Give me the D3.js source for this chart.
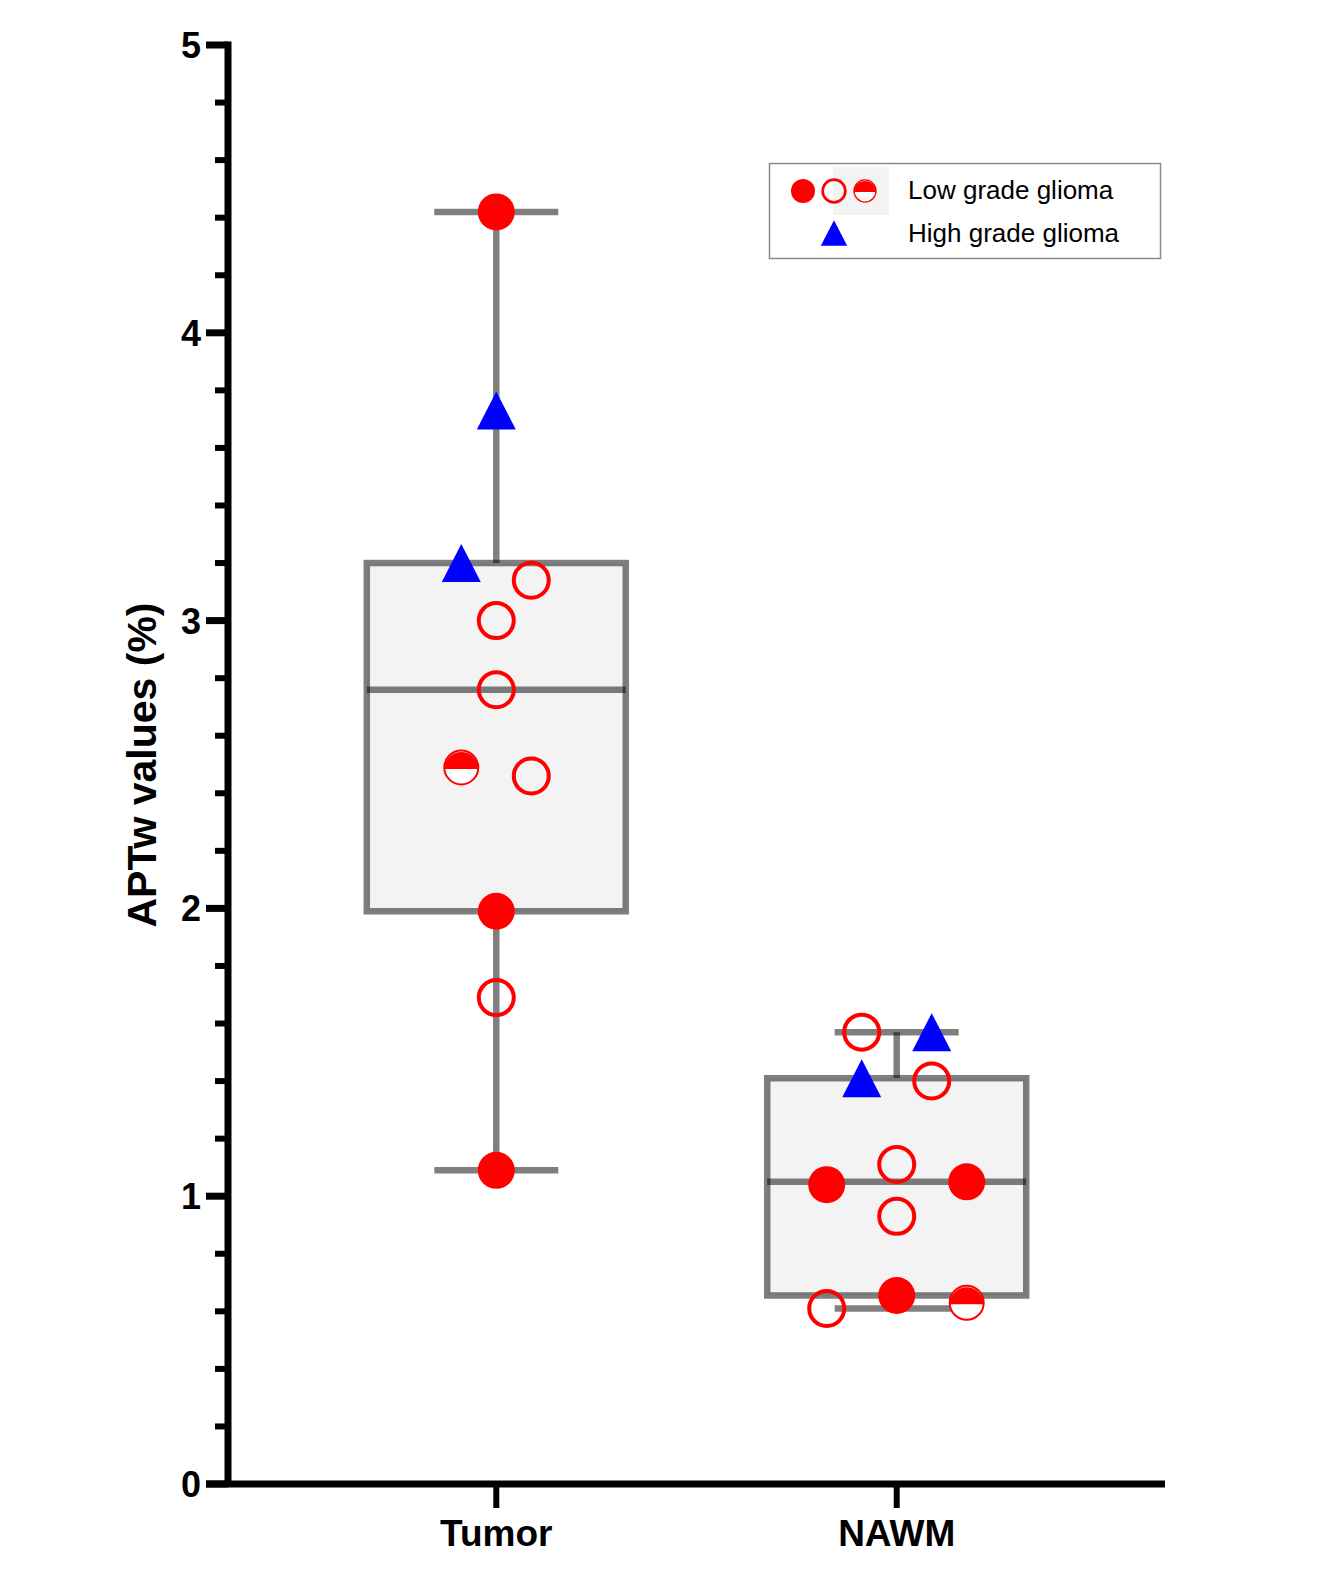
<!DOCTYPE html>
<html>
<head>
<meta charset="utf-8">
<script src="https://cdn.jsdelivr.net/npm/d3@7"></script>
<style>
  body { margin: 0; background: #fff; }
  svg { display: block; font-family: "Liberation Sans", Arial, Helvetica, sans-serif; }
</style>
</head>
<body>
<svg id="chart"></svg>
<script>
const categories = ['Tumor', 'NAWM'];

const tumorValues = [4.42, 3.73, 3.20, 3.14, 3.00, 2.76, 2.49, 2.46, 1.99, 1.69, 1.09];
const tumorMarkers = ['filled', 'tri', 'tri', 'open', 'open', 'open', 'half', 'open', 'filled', 'open', 'filled'];
const tumorSlots = [0, 0, -1, 1, 0, 0, -1, 1, 0, 0, 0];

const nawmValues = [1.57, 1.57, 1.41, 1.40, 1.11, 1.04, 1.05, 0.93, 0.655, 0.63, 0.61];
const nawmMarkers = ['open', 'tri', 'tri', 'open', 'open', 'filled', 'filled', 'open', 'filled', 'half', 'open'];
const nawmSlots = [-1, 1, -1, 1, 0, -2, 2, 0, 0, 2, -2];

const yTicks = [0, 1, 2, 3, 4, 5];
const legendLabels = ['Low grade glioma', 'High grade glioma'];

const width = 1323;
const height = 1588;
const red = '#ff0000';
const blue = '#0000ff';

const svg = d3.select('#chart').attr('width', width).attr('height', height);

const x = d3.scalePoint().domain(categories).range([228, 1165]).padding(0.67);
const y = d3.scaleLinear().domain([0, 5]).range([1484, 45]);
const slot = d3.scalePoint().domain([-2, -1, 0, 1, 2]).range([-70, 70]);

const groups = [
  { name: 'Tumor', values: tumorValues, markers: tumorMarkers, slots: tumorSlots },
  { name: 'NAWM', values: nawmValues, markers: nawmMarkers, slots: nawmSlots }
];

// quartiles the way Prism does it: value at position (n+1)p
function quart(sorted, p) {
  const pos = (sorted.length + 1) * p - 1;
  const lo = Math.floor(pos), hi = Math.ceil(pos);
  return sorted[lo] + (sorted[hi] - sorted[lo]) * (pos - lo);
}

const boxW = 259;
const capW = 124;
const boxStroke = { stroke: '#000', 'stroke-opacity': 0.5, 'stroke-width': 6.5 };

groups.forEach(g => {
  const s = g.values.slice().sort(d3.ascending);
  const st = { min: s[0], q1: quart(s, 0.25), med: quart(s, 0.5), q3: quart(s, 0.75), max: s[s.length - 1] };
  const cx = x(g.name);
  const bg = svg.append('g');

  const line = (x1, y1, x2, y2) => {
    const l = bg.append('line').attr('x1', x1).attr('y1', y1).attr('x2', x2).attr('y2', y2);
    Object.entries(boxStroke).forEach(([k, v]) => l.attr(k, v));
  };

  // whiskers
  line(cx, y(st.max), cx, y(st.q3));
  line(cx, y(st.q1), cx, y(st.min));
  line(cx - capW / 2, y(st.max), cx + capW / 2, y(st.max));
  line(cx - capW / 2, y(st.min), cx + capW / 2, y(st.min));

  // box
  const r = bg.append('rect')
    .attr('x', cx - boxW / 2).attr('y', y(st.q3))
    .attr('width', boxW).attr('height', y(st.q1) - y(st.q3))
    .attr('fill', '#f3f3f3');
  Object.entries(boxStroke).forEach(([k, v]) => r.attr(k, v));
  line(cx - boxW / 2, y(st.med), cx + boxW / 2, y(st.med));
});

function drawMarker(sel, type, size) {
  const s = size / 18.5;
  if (type === 'filled') {
    sel.append('circle').attr('r', 18.5 * s).attr('fill', red);
  } else if (type === 'open') {
    sel.append('circle').attr('r', 17.5 * s).attr('fill', 'none').attr('stroke', red).attr('stroke-width', 4 * s);
  } else if (type === 'half') {
    const rr = 17 * s;
    sel.append('circle').attr('r', rr).attr('fill', '#fff');
    sel.append('path')
      .attr('d', `M${-rr},${1.5 * s}A${rr},${rr} 0 0 1 ${rr},${1.5 * s}Z`)
      .attr('fill', red);
    sel.append('circle').attr('r', rr).attr('fill', 'none').attr('stroke', red).attr('stroke-width', 2 * s);
  } else if (type === 'tri') {
    const w = 39 * s, h = 38 * s;
    sel.append('path')
      .attr('d', `M0,${-h / 2}L${w / 2},${h / 2}L${-w / 2},${h / 2}Z`)
      .attr('fill', blue);
  }
}

groups.forEach(g => {
  const pts = g.values.map((v, i) => ({ v, m: g.markers[i], s: g.slots[i] }));
  svg.append('g').selectAll('g')
    .data(pts)
    .join('g')
    .attr('transform', d => `translate(${x(g.name) + slot(d.s)},${y(d.v)})`)
    .each(function (d) { drawMarker(d3.select(this), d.m, 18.5); });
});

// y axis
const yAxis = svg.append('g').attr('transform', 'translate(228,0)');
yAxis.append('line').attr('x1', 0).attr('x2', 0).attr('y1', y(5) - 3.5).attr('y2', y(0))
  .attr('stroke', '#000').attr('stroke-width', 7);
const minor = d3.range(0, 5.001, 0.2).filter(v => Math.abs(v - Math.round(v)) > 1e-6);
yAxis.selectAll('.minor').data(minor).join('line')
  .attr('x1', -13).attr('x2', 0).attr('y1', d => y(d)).attr('y2', d => y(d))
  .attr('stroke', '#000').attr('stroke-width', 6);
yAxis.selectAll('.major').data(yTicks).join('line')
  .attr('x1', -22).attr('x2', 0).attr('y1', d => y(d)).attr('y2', d => y(d))
  .attr('stroke', '#000').attr('stroke-width', 7);
yAxis.selectAll('text').data(yTicks).join('text')
  .attr('x', -27).attr('y', d => y(d)).attr('dy', '0.36em')
  .attr('text-anchor', 'end').attr('font-size', 36).attr('font-weight', 'bold')
  .text(d => d);

// x axis
const xAxis = svg.append('g').attr('transform', `translate(0,${y(0)})`);
xAxis.append('line').attr('x1', 206).attr('x2', 1165).attr('y1', 0).attr('y2', 0)
  .attr('stroke', '#000').attr('stroke-width', 7);
xAxis.selectAll('.tick').data(categories).join('line')
  .attr('x1', d => x(d)).attr('x2', d => x(d)).attr('y1', 0).attr('y2', 24)
  .attr('stroke', '#000').attr('stroke-width', 6);
xAxis.selectAll('text').data(categories).join('text')
  .attr('x', d => x(d)).attr('y', 62)
  .attr('text-anchor', 'middle').attr('font-size', 37).attr('font-weight', 'bold')
  .text(d => d);

// y axis title
svg.append('text')
  .attr('transform', `translate(156,${(600 + 930) / 2}) rotate(-90)`)
  .attr('text-anchor', 'middle').attr('font-size', 41).attr('font-weight', 'bold')
  .text('APTw values (%)');

// legend
const lg = svg.append('g');
lg.append('rect').attr('x', 769.5).attr('y', 163.5).attr('width', 391).attr('height', 95)
  .attr('fill', '#fff').attr('stroke', '#8a8a8a').attr('stroke-width', 1.5);
lg.append('rect').attr('x', 833).attr('y', 167).attr('width', 56).attr('height', 48).attr('fill', '#f3f3f3');
['filled', 'open', 'half'].forEach((m, i) => {
  drawMarker(lg.append('g').attr('transform', `translate(${803 + i * 31},191)`), m, 12);
});
drawMarker(lg.append('g').attr('transform', 'translate(834,233)'), 'tri', 12.5);
lg.selectAll('text').data(legendLabels).join('text')
  .attr('x', 908).attr('y', (d, i) => 199 + i * 43)
  .attr('font-size', 26).attr('fill', '#000')
  .text(d => d);
</script>
</body>
</html>
